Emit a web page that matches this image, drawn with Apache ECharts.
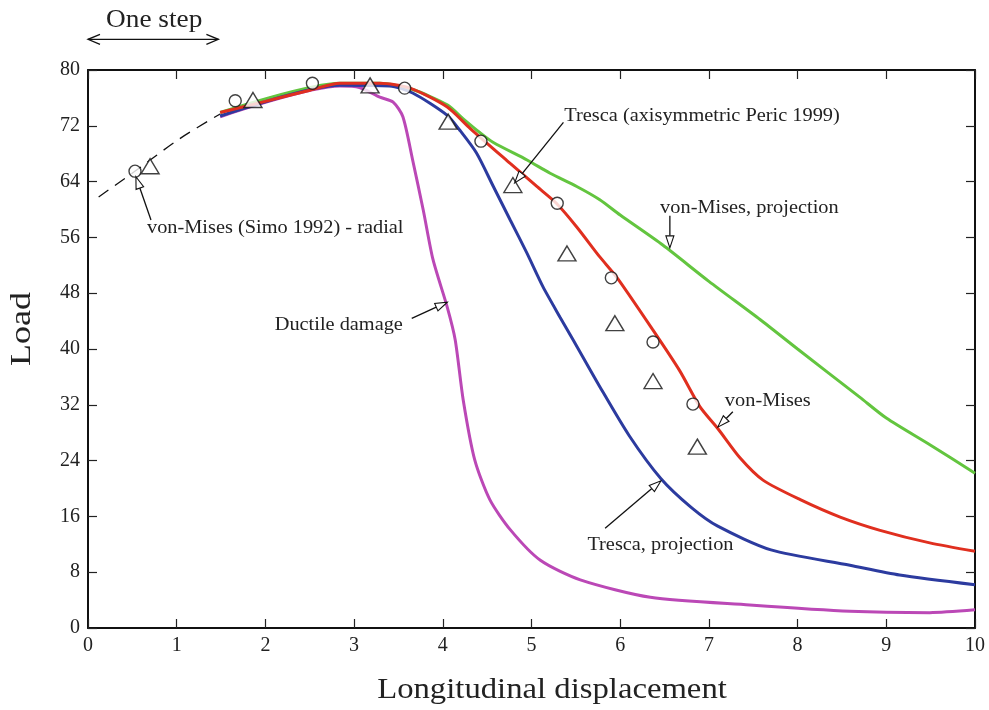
<!DOCTYPE html>
<html><head><meta charset="utf-8">
<script src="https://cdn.jsdelivr.net/npm/echarts@6/dist/echarts.min.js"></script>
<style>html,body{margin:0;padding:0;background:#fff}#c{width:989px;height:710px}</style>
</head><body><div id="c"></div>
<script>
const xTicks = [0,1,2,3,4,5,6,7,8,9,10];
const yTicks = [0,8,16,24,32,40,48,56,64,72,80];
const xTitle = 'Longitudinal displacement';
const yTitle = 'Load';

const dashX = [0.12, 0.52, 1.04, 1.49];
const dashY = [61.8, 65.4, 70.2, 73.7];

const redX = [1.49,2.0,2.5,2.84,3.29,3.63,4.05,4.31,4.76,5.06,5.28,5.51,5.77,5.96,6.37,6.67,6.90,7.10,7.35,7.61,8.03,8.48,8.93,9.49,10];
const redY = [73.9,75.5,77.1,78.1,78.1,77.4,74.7,71.6,66.6,63.3,60.9,57.5,53.2,50.3,42.7,36.9,31.7,28.6,24.4,21.2,18.4,15.9,14.0,12.2,11.0];

const greenX = [1.49,2.84,3.29,3.66,4.05,4.23,4.42,4.57,4.95,5.21,5.51,5.77,6.0,6.48,7.0,7.58,8.0,8.70,9.0,9.5,10];
const greenY = [73.9,78.1,78.1,77.2,75.0,73.0,71.0,69.6,67.1,65.2,63.3,61.4,59.2,54.9,49.7,44.2,40.0,33.1,30.1,26.2,22.2];

const blueX = [1.49,2.84,3.4,3.66,4.05,4.19,4.38,4.57,4.76,4.95,5.13,5.32,5.47,5.77,6.1,6.46,6.8,7.1,7.7,8.59,9.15,10];
const blueY = [73.4,77.8,77.7,76.7,73.5,71.4,68.1,63.3,58.5,53.7,48.9,44.6,41.3,34.6,27.6,21.4,17.3,14.6,11.2,9.0,7.6,6.2];

const magX = [1.49,2.84,3.06,3.29,3.44,3.55,3.66,3.78,3.89,4.05,4.14,4.23,4.36,4.53,4.76,5.1,5.55,6.34,7.46,8.59,9.49,10];
const magY = [73.3,77.7,77.5,76.1,75.4,73.3,67.1,59.9,52.8,46.0,41.3,32.7,24.1,18.4,14.1,9.7,6.9,4.4,3.3,2.4,2.2,2.6];

const circX = [0.53,1.66,2.53,3.57,4.43,5.29,5.90,6.37,6.82];
const circY = [65.5,75.6,78.1,77.4,69.8,60.9,50.2,41.0,32.1];

const triX = [0.70,1.86,3.18,4.06,4.79,5.40,5.94,6.37,6.87];
const triY = [66.2,75.7,77.8,72.6,63.5,53.7,43.7,35.4,26.0];

// annotations: [text, textX, textY, align, arrowFromX, arrowFromY, arrowTipX, arrowTipY]
const annotations = [
  ['von-Mises (Simo 1992) - radial', 0.665, 57.3, 'left', 0.71, 58.5, 0.54, 64.7],
  ['Ductile damage', 3.55, 43.4, 'right', 3.65, 44.4, 4.05, 46.7],
  ['Tresca (axisymmetric Peric 1999)', 5.37, 73.4, 'left', 5.36, 72.5, 4.81, 63.8],
  ['von-Mises, projection', 6.45, 60.2, 'left', 6.56, 59.1, 6.56, 54.5],
  ['von-Mises', 7.18, 32.5, 'left', 7.27, 31.0, 7.10, 28.8],
  ['Tresca, projection', 5.63, 11.8, 'left', 5.83, 14.3, 6.46, 21.1]
];
const stepLabel = 'One step';
const stepFrom = 0, stepTo = 1.47;

const FONT = '"Liberation Serif", "Times New Roman", serif';
const pair = (xs, ys) => xs.map((x, i) => [x, ys[i]]);

const chart = echarts.init(document.getElementById('c'));
const axisCommon = {
  type: 'value', min: 0,
  axisLine: { show: true, onZero: false, lineStyle: { color: '#111', width: 2 } },
  axisTick: { show: true, inside: true, length: 9, lineStyle: { color: '#222', width: 1.2 } },
  splitLine: { show: false }
};
const lineSeries = (name, xs, ys, color) => ({
  name, type: 'line', data: pair(xs, ys), showSymbol: false, smooth: 0.25,
  lineStyle: { color, width: 3 }, itemStyle: { color }, z: 2, animation: false
});

chart.setOption({
  animation: false,
  backgroundColor: '#fff',
  grid: { left: 88, right: 14, top: 70, bottom: 82, containLabel: false },
  xAxis: [
    Object.assign({}, axisCommon, { max: 10, interval: 1, position: 'bottom',
      axisLabel: { fontFamily: FONT, fontSize: 20, color: '#222', margin: 8 } }),
    Object.assign({}, axisCommon, { max: 10, interval: 1, position: 'top', axisLabel: { show: false } })
  ],
  yAxis: [
    Object.assign({}, axisCommon, { max: 80, interval: 8, position: 'left',
      axisLabel: { fontFamily: FONT, fontSize: 20, color: '#222', margin: 8 } }),
    Object.assign({}, axisCommon, { max: 80, interval: 8, position: 'right', axisLabel: { show: false } })
  ],
  series: [
    { name: 'radial', type: 'line', data: pair(dashX, dashY), showSymbol: false, smooth: 0.3,
      lineStyle: { color: '#111', width: 1.3, type: [12, 8] }, z: 1 },
    lineSeries('von-Mises, projection', greenX, greenY, '#63c53f'),
    lineSeries('Ductile damage', magX, magY, '#bb48b6'),
    lineSeries('Tresca, projection', blueX, blueY, '#2c3b9f'),
    lineSeries('von-Mises', redX, redY, '#e02f1f'),
    { name: 'Simo', type: 'scatter', data: pair(circX, circY), symbol: 'circle', symbolSize: 12,
      itemStyle: { color: '#fff', borderColor: '#111', borderWidth: 1.4 }, z: 5 },
    { name: 'Peric', type: 'scatter', data: pair(triX, triY), symbol: 'triangle', symbolSize: [18, 15],
      itemStyle: { color: '#fff', borderColor: '#111', borderWidth: 1.4 }, z: 5 }
  ]
});

function px(x, y) { return chart.convertToPixel({ xAxisIndex: 0, yAxisIndex: 0 }, [x, y]); }
const g = [];
annotations.forEach(a => {
  const t = px(a[1], a[2]);
  g.push({ type: 'text', x: t[0], y: t[1], scaleX: 1.13, z: 10,
    style: { text: a[0], font: '18px ' + FONT, fill: '#222', align: a[3], verticalAlign: 'middle' } });
  const p0 = px(a[4], a[5]), p1 = px(a[6], a[7]);
  const dx = p1[0] - p0[0], dy = p1[1] - p0[1], L = Math.hypot(dx, dy);
  const ux = dx / L, uy = dy / L, nx = -uy, ny = ux;
  const hl = 12, hw = 4;
  const bx = p1[0] - ux * hl, by = p1[1] - uy * hl;
  g.push({ type: 'line', z: 10, shape: { x1: p0[0], y1: p0[1], x2: bx, y2: by },
    style: { stroke: '#111', lineWidth: 1.3 } });
  g.push({ type: 'polygon', z: 10, shape: { points: [[p1[0], p1[1]], [bx + nx * hw, by + ny * hw], [bx - nx * hw, by - ny * hw]] },
    style: { fill: '#fff', stroke: '#111', lineWidth: 1.1 } });
});
// axis titles
g.push({ type: 'text', x: 552, y: 690, scaleX: 1.09, z: 10,
  style: { text: xTitle, font: '30px ' + FONT, fill: '#222', align: 'center', verticalAlign: 'middle' } });
g.push({ type: 'text', x: 22, y: 329, rotation: Math.PI / 2, scaleX: 1.2, z: 10,
  style: { text: yTitle, font: '30px ' + FONT, fill: '#222', align: 'center', verticalAlign: 'middle' } });
// One step double arrow above the plot
const s0 = px(stepFrom, 84.4), s1 = px(stepTo, 84.4), st = px((stepFrom + stepTo) / 2, 87.2);
g.push({ type: 'text', x: st[0] + 1, y: st[1], scaleX: 1.05, z: 10,
  style: { text: stepLabel, font: '26px ' + FONT, fill: '#222', align: 'center', verticalAlign: 'middle' } });
g.push({ type: 'line', z: 10, shape: { x1: s0[0], y1: s0[1], x2: s1[0], y2: s1[1] }, style: { stroke: '#111', lineWidth: 1.3 } });
g.push({ type: 'polyline', z: 10, shape: { points: [[s0[0] + 12, s0[1] - 5], [s0[0], s0[1]], [s0[0] + 12, s0[1] + 5]] }, style: { stroke: '#111', lineWidth: 1.3, fill: null } });
g.push({ type: 'polyline', z: 10, shape: { points: [[s1[0] - 12, s1[1] - 5], [s1[0], s1[1]], [s1[0] - 12, s1[1] + 5]] }, style: { stroke: '#111', lineWidth: 1.3, fill: null } });
chart.setOption({ graphic: g });
</script></body></html>
